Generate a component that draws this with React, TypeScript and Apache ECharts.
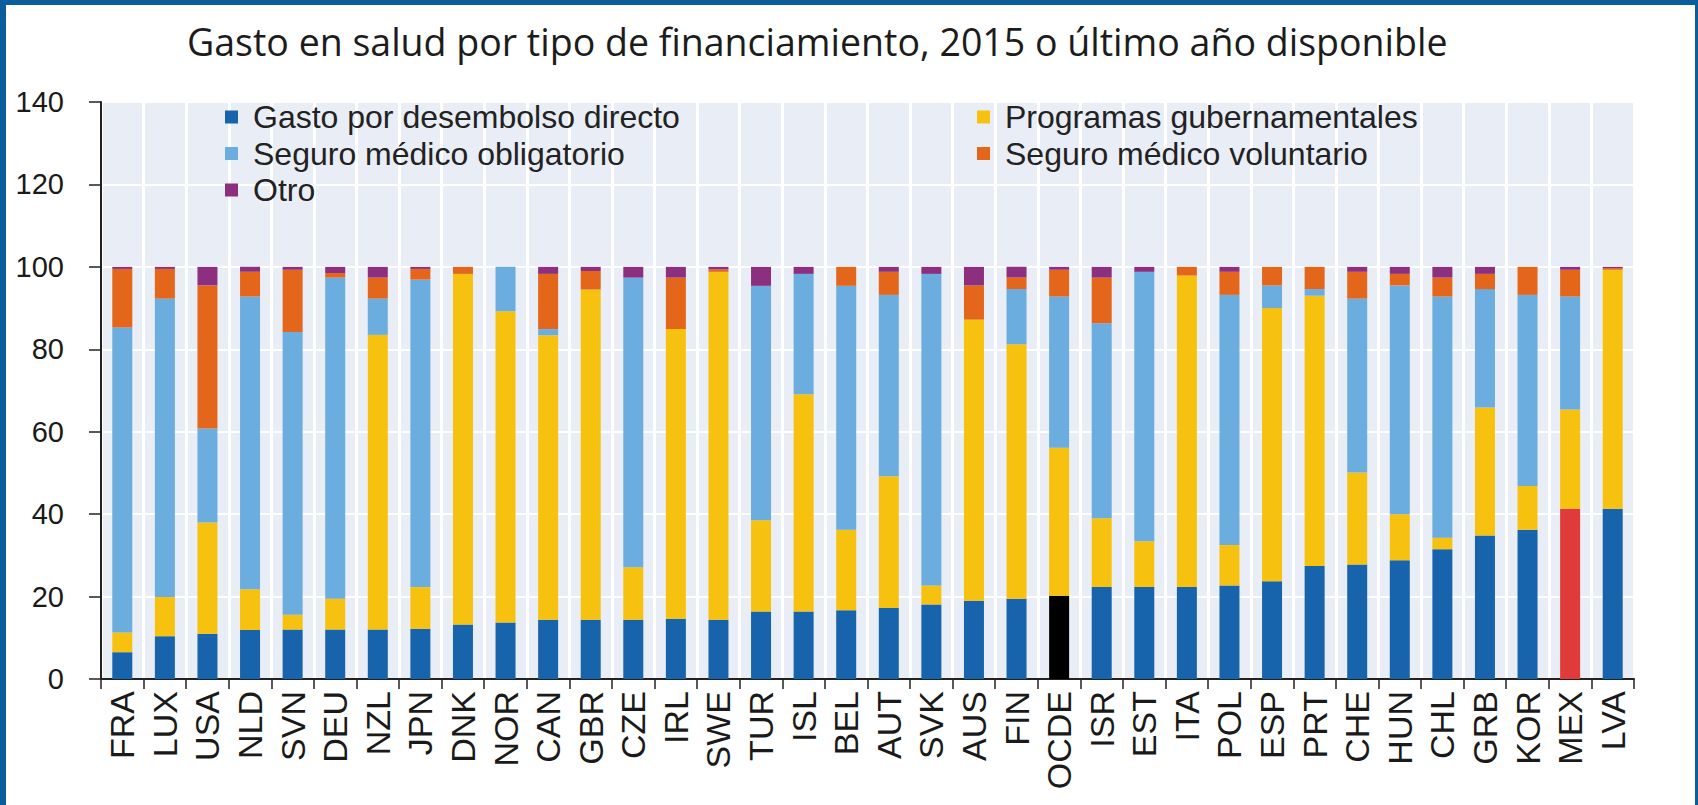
import React, { useEffect, useRef } from "react";
import * as echarts from "echarts";

const titleText = "Gasto en salud por tipo de financiamiento, 2015 o último año disponible";

const categories = [
  "FRA", "LUX", "USA", "NLD", "SVN", "DEU", "NZL", "JPN", "DNK", "NOR",
  "CAN", "GBR", "CZE", "IRL", "SWE", "TUR", "ISL", "BEL", "AUT", "SVK",
  "AUS", "FIN", "OCDE", "ISR", "EST", "ITA", "POL", "ESP", "PRT", "CHE",
  "HUN", "CHL", "GRB", "KOR", "MEX", "LVA",
];

const seriesNames = [
  "Gasto por desembolso directo",
  "Programas gubernamentales",
  "Seguro médico obligatorio",
  "Seguro médico voluntario",
  "Otro",
];

const outOfPocket = [
  6.5, 10.4, 11.0, 11.9, 12.0, 12.0, 12.0, 12.2, 13.2, 13.7,
  14.4, 14.4, 14.4, 14.6, 14.4, 16.4, 16.4, 16.7, 17.2, 18.1,
  19.0, 19.5, 20.2, 22.3, 22.3, 22.3, 22.7, 23.7, 27.4, 27.8,
  28.8, 31.5, 34.8, 36.2, 41.3, 41.3,
];
const government = [
  4.8, 9.5, 27.0, 9.9, 3.6, 7.5, 71.5, 10.1, 85.1, 75.5,
  69.0, 80.1, 12.7, 70.3, 84.4, 22.1, 52.7, 19.5, 32.0, 4.6,
  68.2, 61.7, 35.9, 16.7, 11.1, 75.6, 9.8, 66.3, 65.6, 22.3,
  11.2, 2.8, 31.1, 10.6, 24.1, 58.0,
];
const compulsory = [
  74.0, 72.4, 22.8, 71.0, 68.6, 77.9, 8.8, 74.6, 0, 10.8,
  1.5, 0, 70.3, 0, 0, 56.9, 29.2, 59.2, 44.0, 75.6,
  0, 13.4, 36.7, 47.3, 65.4, 0, 60.7, 5.5, 1.6, 42.2,
  55.5, 58.5, 28.7, 46.4, 27.4, 0,
];
const voluntary = [
  14.2, 7.2, 34.7, 6.0, 15.1, 1.1, 5.1, 2.6, 1.7, 0,
  13.4, 4.5, 0, 12.5, 0.6, 0, 0, 4.6, 5.6, 0,
  8.3, 2.8, 6.5, 11.1, 0, 2.1, 5.6, 4.5, 5.4, 6.5,
  2.8, 4.6, 3.7, 6.8, 6.5, 0.4,
];
const other = [
  0.5, 0.5, 4.5, 1.2, 0.7, 1.5, 2.6, 0.5, 0, 0,
  1.7, 1.0, 2.6, 2.6, 0.6, 4.6, 1.7, 0, 1.2, 1.7,
  4.5, 2.6, 0.7, 2.6, 1.2, 0, 1.2, 0, 0, 1.2,
  1.7, 2.6, 1.7, 0, 0.7, 0.3,
];

const yTicks = { min: 0, max: 140, interval: 20 };

const colors = ["#1764AD", "#F7C10F", "#6AADDE", "#E3661B", "#8C2F7E"];
const highlight: Record<string, string> = { OCDE: "#000000", MEX: "#E03A3A" };

export default function App() {
  const ref = useRef<HTMLDivElement>(null);

  useEffect(() => {
    if (!ref.current) return;
    const chart = echarts.init(ref.current, undefined, { renderer: "svg" });
    const axisFont = "'Liberation Sans', Arial, sans-serif";
    const values = [outOfPocket, government, compulsory, voluntary, other];

    const series = values.map((arr, si) => ({
      name: seriesNames[si],
      type: "bar" as const,
      stack: "total",
      barWidth: 20,
      itemStyle: { color: colors[si] },
      data: arr.map((v, i) => {
        if (si === 0 && highlight[categories[i]]) {
          return { value: v, itemStyle: { color: highlight[categories[i]] } };
        }
        return v;
      }),
    }));

    const legendText = {
      fontFamily: axisFont,
      fontSize: 32,
      lineHeight: 34,
      color: "#222222",
      padding: [0, 0, 0, 10],
    };

    chart.setOption({
      animation: false,
      backgroundColor: "#ffffff",
      title: {
        text: titleText,
        left: 182,
        top: 17,
        textStyle: {
          fontFamily: "'Open Sans', sans-serif",
          fontSize: 37.5,
          fontWeight: "normal",
          color: "#1c1c1c",
        },
      },
      legend: [
        {
          data: [seriesNames[0], seriesNames[2], seriesNames[4]],
          orient: "vertical",
          left: 225,
          top: 100,
          icon: "rect",
          itemWidth: 13,
          itemHeight: 13,
          itemGap: 2.5,
          padding: 0,
          selectedMode: false,
          textStyle: legendText,
        },
        {
          data: [seriesNames[1], seriesNames[3]],
          orient: "vertical",
          left: 977,
          top: 100,
          icon: "rect",
          itemWidth: 13,
          itemHeight: 13,
          itemGap: 2.5,
          padding: 0,
          selectedMode: false,
          textStyle: legendText,
        },
      ],
      grid: {
        left: 101,
        right: 64,
        top: 102,
        bottom: 126,
        show: true,
        backgroundColor: "#E9EDF6",
        borderWidth: 0,
      },
      xAxis: {
        type: "category",
        data: categories,
        axisLine: { show: true, lineStyle: { color: "#222222", width: 2 } },
        axisTick: { show: true, length: 10, lineStyle: { color: "#222222", width: 1.5 } },
        axisLabel: {
          rotate: 90,
          margin: 12,
          fontFamily: axisFont,
          fontSize: 34,
          color: "#1a1a1a",
          interval: 0,
        },
        splitLine: { show: true, interval: 0, lineStyle: { color: "#ffffff", width: 3 } },
      },
      yAxis: {
        type: "value",
        min: yTicks.min,
        max: yTicks.max,
        interval: yTicks.interval,
        axisLine: { show: true, lineStyle: { color: "#222222", width: 2 } },
        axisTick: { show: true, length: 12, lineStyle: { color: "#222222", width: 1.5 } },
        axisLabel: {
          margin: 37,
          fontFamily: axisFont,
          fontSize: 29,
          color: "#1a1a1a",
        },
        splitLine: { show: true, lineStyle: { color: "#ffffff", width: 2 } },
      },
      series,
    });

    return () => chart.dispose();
  }, []);

  return (
    <div style={{ position: "fixed", left: 0, top: 0, width: 1698, height: 805, background: "#fff" }}>
      <div ref={ref} style={{ position: "absolute", left: 0, top: 0, width: 1698, height: 805 }} />
      <div
        style={{
          position: "absolute",
          left: 0,
          top: 0,
          width: 1698,
          height: 805,
          boxSizing: "border-box",
          borderTop: "5px solid #0A5E9E",
          borderLeft: "6px solid #0A5E9E",
          borderRight: "3px solid #0A5E9E",
          pointerEvents: "none",
        }}
      />
    </div>
  );
}
